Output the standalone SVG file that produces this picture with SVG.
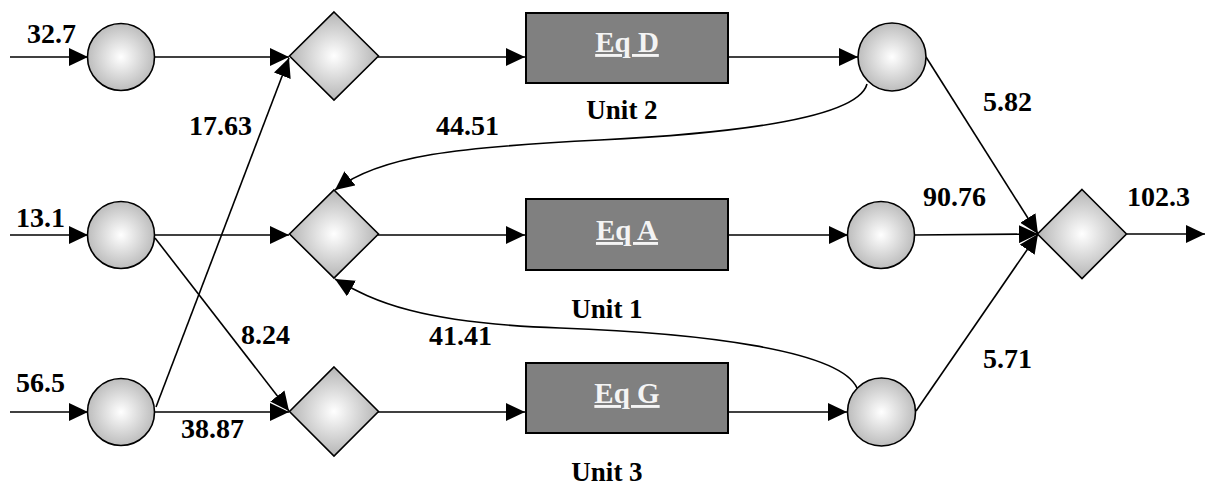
<svg xmlns="http://www.w3.org/2000/svg" width="1210" height="490" viewBox="0 0 1210 490">
<defs>
<radialGradient id="gc" cx="0.5" cy="0.5" r="0.5">
<stop offset="0" stop-color="#ffffff"/>
<stop offset="1" stop-color="#bdbdbd"/>
</radialGradient>
<radialGradient id="gd" cx="0.5" cy="0.5" r="0.5">
<stop offset="0" stop-color="#ffffff"/>
<stop offset="1" stop-color="#b5b5b5"/>
</radialGradient>
<marker id="ah" markerUnits="userSpaceOnUse" markerWidth="20" markerHeight="18" refX="19" refY="9" orient="auto">
<path d="M0,0 L19,9 L0,18 z" fill="#000"/>
</marker>
<style>
.n{fill:url(#gc);stroke:#000;stroke-width:1.6}
.d{fill:url(#gd);stroke:#000;stroke-width:1.6}
.b{fill:#808080;stroke:#000;stroke-width:2}
.e{fill:none;stroke:#000;stroke-width:1.6;marker-end:url(#ah)}
.p{fill:none;stroke:#000;stroke-width:1.6}
.t{font-family:"Liberation Serif","Times New Roman",serif;font-weight:bold;font-size:28px;fill:#000}
.u{font-family:"Liberation Serif","Times New Roman",serif;font-weight:bold;font-size:27px;fill:#000;text-anchor:middle}
.q{font-family:"Liberation Serif","Times New Roman",serif;font-weight:bold;font-size:29px;fill:#f4f4f4;text-anchor:middle;text-decoration:underline}
</style>
</defs>
<g id="connectors">
<line class="e" x1="10" y1="57" x2="88" y2="57"/>
<line class="e" x1="10" y1="235" x2="88" y2="235"/>
<line class="e" x1="10" y1="412" x2="88" y2="412"/>
<line class="e" x1="155" y1="57" x2="289" y2="57"/>
<line class="e" x1="155" y1="235" x2="289" y2="235"/>
<line class="e" x1="155" y1="412" x2="289" y2="412"/>
<line class="e" x1="156" y1="407" x2="289" y2="58"/>
<line class="e" x1="155" y1="238" x2="289" y2="411"/>
<line class="e" x1="378" y1="57" x2="525" y2="57"/>
<line class="e" x1="378" y1="235" x2="525" y2="235"/>
<line class="e" x1="378" y1="412" x2="525" y2="412"/>
<line class="e" x1="728" y1="57" x2="858" y2="57"/>
<line class="e" x1="728" y1="235" x2="848" y2="235"/>
<line class="e" x1="728" y1="412" x2="847" y2="412"/>
<line class="e" x1="926" y1="57" x2="1038" y2="234"/>
<line class="e" x1="914" y1="235" x2="1038" y2="234"/>
<line class="e" x1="916" y1="411" x2="1038" y2="234"/>
<line class="e" x1="1127" y1="234" x2="1205" y2="234"/>
<path class="e" d="M867,84 C858,118 740,133 600,140 S380,155 335,190"/>
<path class="e" d="M857,388 C840,350 700,333 560,328 S375,302 335,279"/>
</g>
<g id="s1"><circle class="n" cx="121" cy="57" r="33.5"/></g>
<g id="s2"><circle class="n" cx="121" cy="235" r="33.5"/></g>
<g id="s3"><circle class="n" cx="121" cy="412" r="33.5"/></g>
<g id="m1"><polygon class="d" points="334,12 378.5,56 334,100 289.5,56"/></g>
<g id="m2"><polygon class="d" points="334,190 378.5,234 334,278 289.5,234"/></g>
<g id="m3"><polygon class="d" points="334,367 378.5,411.5 334,456 289.5,411.5"/></g>
<g id="eqD"><rect class="b" x="526" y="13" width="202" height="70"/><text class="q" x="627" y="52">Eq D</text></g>
<g id="eqA"><rect class="b" x="526" y="199" width="202" height="71"/><text class="q" x="627" y="240">Eq A</text></g>
<g id="eqG"><rect class="b" x="526" y="363" width="202" height="70"/><text class="q" x="627" y="403">Eq G</text></g>
<g id="o2"><circle class="n" cx="892" cy="57" r="34"/></g>
<g id="o1"><circle class="n" cx="881" cy="235" r="33.5"/></g>
<g id="o3"><circle class="n" cx="881.5" cy="412" r="34"/></g>
<g id="mix"><polygon class="d" points="1082,189.5 1126.5,234 1082,278.5 1037.5,234"/></g>
<g id="labels">
<text class="t" x="27" y="43">32.7</text>
<text class="t" x="16" y="227">13.1</text>
<text class="t" x="16" y="392">56.5</text>
<text class="t" x="189" y="135">17.63</text>
<text class="t" x="241" y="344">8.24</text>
<text class="t" x="181" y="438">38.87</text>
<text class="t" x="436" y="135">44.51</text>
<text class="t" x="429" y="345">41.41</text>
<text class="t" x="983" y="111">5.82</text>
<text class="t" x="923" y="206">90.76</text>
<text class="t" x="1127" y="206">102.3</text>
<text class="t" x="983" y="368">5.71</text>
<text class="u" x="622" y="119">Unit 2</text>
<text class="u" x="607" y="318">Unit 1</text>
<text class="u" x="607" y="481">Unit 3</text>
</g>
</svg>
